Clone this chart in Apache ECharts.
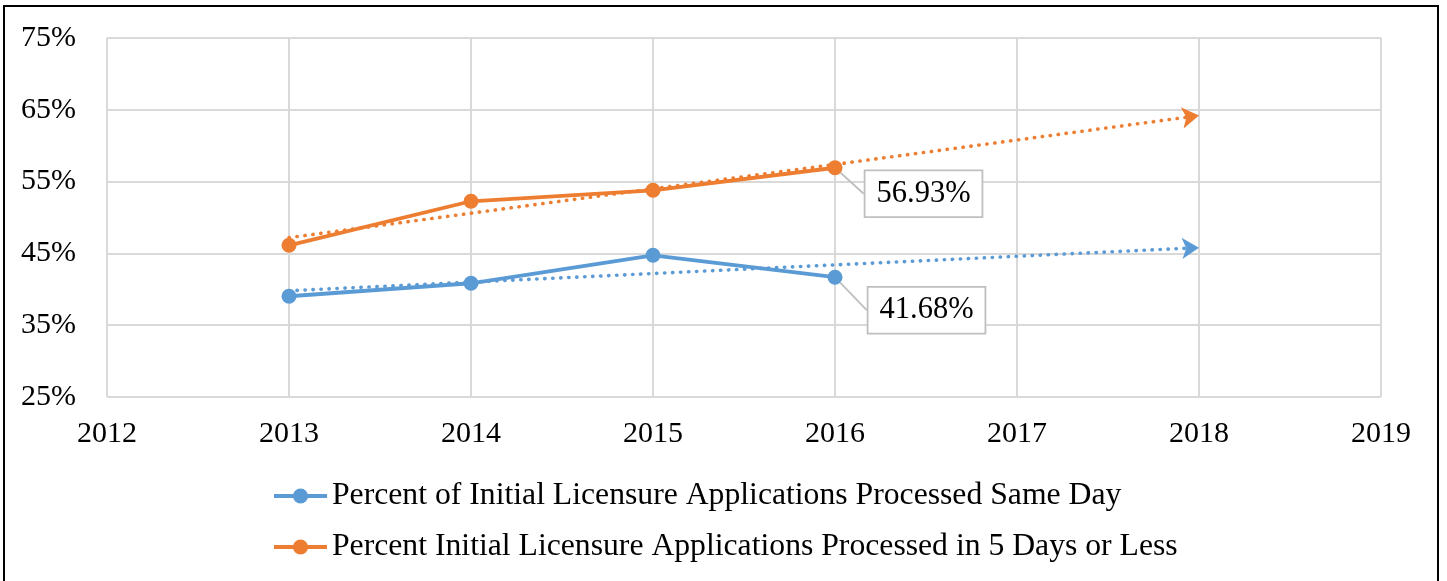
<!DOCTYPE html>
<html>
<head>
<meta charset="utf-8">
<script src="https://cdn.jsdelivr.net/npm/echarts@6/dist/echarts.min.js"></script>
<style>
  html, body { margin: 0; padding: 0; background: #fff; }
  #chart { width: 1447px; height: 581px; }
</style>
</head>
<body>
<div id="chart"></div>
<script>
const years = [2013, 2014, 2015, 2016];
const sameDay = [39.03, 40.84, 44.74, 41.68];
const fiveDays = [46.13, 52.26, 53.79, 56.93];
const trendYears = [2013, 2018];
const sameDayTrend = [39.8, 45.8];
const fiveDaysTrend = [47.2, 64.2];
const yTicks = [25, 35, 45, 55, 65, 75];
const xTicks = [2012, 2013, 2014, 2015, 2016, 2017, 2018, 2019];
const seriesNames = [
  'Percent of Initial Licensure Applications Processed Same Day',
  'Percent Initial Licensure Applications Processed in 5 Days or Less'
];

const FONT = "'Liberation Serif', 'Times New Roman', serif";
const BLUE = '#5B9BD5';
const ORANGE = '#ED7D31';

function labelled(xs, ys) {
  return xs.map((x, i) => {
    const item = { value: [x, ys[i]] };
    if (i === xs.length - 1) {
      item.label = {
        show: true,
        position: 'right',
        distance: 5,
        formatter: (p) => p.value[1].toFixed(2) + '%',
        fontFamily: FONT,
        fontSize: 30.5,
        lineHeight: 31,
        color: '#000',
        backgroundColor: '#fff',
        borderColor: '#BFBFBF',
        borderWidth: 1.8,
        padding: [8, 11, 6, 11]
      };
    }
    return item;
  });
}

function trendMark(xs, ys, color) {
  return {
    silent: true,
    symbol: ['none', 'arrow'],
    symbolSize: [16, 17],
    label: { show: false },
    emphasis: { disabled: true },
    lineStyle: { color: color, width: 3.6, type: [0.3, 7.7], cap: 'round', opacity: 1 },
    data: [[{ coord: [xs[0], ys[0]] }, { coord: [xs[1], ys[1]] }]]
  };
}

const chart = echarts.init(document.getElementById('chart'), null, { renderer: 'canvas' });
chart.setOption({
  animation: false,
  backgroundColor: '#fff',
  textStyle: { fontFamily: FONT },
  graphic: [{
    type: 'rect',
    shape: { x: 4, y: 6, width: 1434, height: 600 },
    style: { fill: 'none', stroke: '#000', lineWidth: 2 },
    silent: true, z: 100
  }],
  grid: { left: 107, top: 38, right: 66, bottom: 184 },
  xAxis: {
    type: 'value',
    min: xTicks[0], max: xTicks[xTicks.length - 1], interval: 1,
    axisLine: { show: false },
    axisTick: { show: false },
    axisLabel: { formatter: (v) => String(v), fontFamily: FONT, fontSize: 30, color: '#000', margin: 22 },
    splitLine: { show: true, lineStyle: { color: '#D9D9D9', width: 2 } }
  },
  yAxis: {
    type: 'value',
    min: yTicks[0], max: yTicks[yTicks.length - 1], interval: 10,
    axisLine: { show: false },
    axisTick: { show: false },
    axisLabel: { formatter: '{value}%', fontFamily: FONT, fontSize: 30, color: '#000', margin: 31 },
    splitLine: { show: true, lineStyle: { color: '#D9D9D9', width: 2 } }
  },
  legend: {
    orient: 'vertical',
    left: 272,
    top: 480,
    padding: 0,
    itemWidth: 53,
    itemHeight: 19,
    itemGap: 19,
    data: seriesNames,
    lineStyle: { width: 4 },
    textStyle: { fontFamily: FONT, fontSize: 31.7, lineHeight: 32, color: '#000' }
  },
  series: [
    {
      name: seriesNames[0],
      type: 'line',
      data: labelled(years, sameDay),
      symbol: 'circle', symbolSize: 15,
      itemStyle: { color: BLUE },
      lineStyle: { color: BLUE, width: 3.8 },
      labelLine: { show: true, lineStyle: { color: '#BFBFBF', width: 1.8 } },
      labelLayout: { dx: 21, dy: 33 },
      markLine: trendMark(trendYears, sameDayTrend, BLUE),
      z: 3
    },
    {
      name: seriesNames[1],
      type: 'line',
      data: labelled(years, fiveDays),
      symbol: 'circle', symbolSize: 15,
      itemStyle: { color: ORANGE },
      lineStyle: { color: ORANGE, width: 3.8 },
      labelLine: { show: true, lineStyle: { color: '#BFBFBF', width: 1.8 } },
      labelLayout: { dx: 18, dy: 26 },
      markLine: trendMark(trendYears, fiveDaysTrend, ORANGE),
      z: 3
    }
  ]
});
</script>
</body>
</html>
